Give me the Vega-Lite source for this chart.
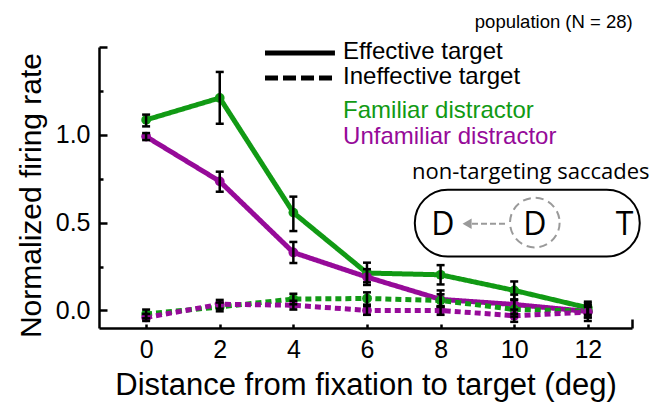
{
  "$schema": "https://vega.github.io/schema/vega-lite/v6.json",
  "width": 533,
  "height": 281,
  "autosize": {"type": "none"},
  "padding": {"left": 99, "top": 47, "right": 24, "bottom": 75},
  "background": "white",
  "config": {
    "view": {"stroke": null},
    "font": "Liberation Sans",
    "axis": {
      "domainColor": "black",
      "domainWidth": 2.5,
      "tickColor": "black",
      "tickWidth": 2.5,
      "labelColor": "black",
      "labelFont": "Liberation Sans",
      "labelFontSize": 25,
      "titleFont": "Liberation Sans",
      "titleFontWeight": "normal",
      "titleColor": "black",
      "grid": false
    }
  },
  "datasets": {
    "rates": [
      {"d": 0, "cond": "Familiar", "tgt": "Effective", "m": 1.085, "lo": 1.048, "hi": 1.115},
      {"d": 2, "cond": "Familiar", "tgt": "Effective", "m": 1.21, "lo": 1.063, "hi": 1.358},
      {"d": 4, "cond": "Familiar", "tgt": "Effective", "m": 0.557, "lo": 0.452, "hi": 0.648},
      {"d": 6, "cond": "Familiar", "tgt": "Effective", "m": 0.213, "lo": 0.16, "hi": 0.272},
      {"d": 8, "cond": "Familiar", "tgt": "Effective", "m": 0.203, "lo": 0.148, "hi": 0.258},
      {"d": 10, "cond": "Familiar", "tgt": "Effective", "m": 0.114, "lo": 0.063, "hi": 0.165},
      {"d": 12, "cond": "Familiar", "tgt": "Effective", "m": 0.015, "lo": -0.025, "hi": 0.05},
      {"d": 0, "cond": "Unfamiliar", "tgt": "Effective", "m": 0.99, "lo": 0.97, "hi": 1.01},
      {"d": 2, "cond": "Unfamiliar", "tgt": "Effective", "m": 0.735, "lo": 0.676, "hi": 0.79},
      {"d": 4, "cond": "Unfamiliar", "tgt": "Effective", "m": 0.33, "lo": 0.27, "hi": 0.39},
      {"d": 6, "cond": "Unfamiliar", "tgt": "Effective", "m": 0.19, "lo": 0.145, "hi": 0.235},
      {"d": 8, "cond": "Unfamiliar", "tgt": "Effective", "m": 0.063, "lo": 0.02, "hi": 0.114},
      {"d": 10, "cond": "Unfamiliar", "tgt": "Effective", "m": 0.034, "lo": -0.02, "hi": 0.09},
      {"d": 12, "cond": "Unfamiliar", "tgt": "Effective", "m": -0.006, "lo": -0.06, "hi": 0.04},
      {"d": 0, "cond": "Familiar", "tgt": "Ineffective", "m": -0.02, "lo": -0.045, "hi": 0.005},
      {"d": 2, "cond": "Familiar", "tgt": "Ineffective", "m": 0.02, "lo": -0.005, "hi": 0.045},
      {"d": 4, "cond": "Familiar", "tgt": "Ineffective", "m": 0.065, "lo": 0.035, "hi": 0.095},
      {"d": 6, "cond": "Familiar", "tgt": "Ineffective", "m": 0.068, "lo": 0.033, "hi": 0.103},
      {"d": 8, "cond": "Familiar", "tgt": "Ineffective", "m": 0.057, "lo": 0.022, "hi": 0.092},
      {"d": 10, "cond": "Familiar", "tgt": "Ineffective", "m": 0.006, "lo": -0.035, "hi": 0.06},
      {"d": 12, "cond": "Familiar", "tgt": "Ineffective", "m": -0.005, "lo": -0.04, "hi": 0.03},
      {"d": 0, "cond": "Unfamiliar", "tgt": "Ineffective", "m": -0.04, "lo": -0.06, "hi": -0.02},
      {"d": 2, "cond": "Unfamiliar", "tgt": "Ineffective", "m": 0.035, "lo": 0.01, "hi": 0.06},
      {"d": 4, "cond": "Unfamiliar", "tgt": "Ineffective", "m": 0.03, "lo": 0.005, "hi": 0.055},
      {"d": 6, "cond": "Unfamiliar", "tgt": "Ineffective", "m": 0.0, "lo": -0.025, "hi": 0.025},
      {"d": 8, "cond": "Unfamiliar", "tgt": "Ineffective", "m": 0.0, "lo": -0.025, "hi": 0.025},
      {"d": 10, "cond": "Unfamiliar", "tgt": "Ineffective", "m": -0.03, "lo": -0.065, "hi": 0.005},
      {"d": 12, "cond": "Unfamiliar", "tgt": "Ineffective", "m": -0.01, "lo": -0.04, "hi": 0.02}
    ]
  },
  "layer": [
    {
      "data": {"name": "rates"},
      "mark": {"type": "line", "strokeWidth": 5},
      "encoding": {
        "x": {
          "field": "d",
          "type": "quantitative",
          "scale": {"domain": [-1.28, 13.2], "nice": false, "zero": false},
          "axis": {
            "values": [0, 2, 4, 6, 8, 10, 12, 13.2],
            "labelExpr": "datum.value > 12.5 ? '' : datum.label",
            "tickSize": {"condition": {"test": "datum.value > 12.5", "value": -9}, "value": -4},
            "labelPadding": 13,
            "title": "Distance from fixation to target (deg)",
            "titleFontSize": 31,
            "titlePadding": 8
          }
        },
        "y": {
          "field": "m",
          "type": "quantitative",
          "scale": {"domain": [-0.1, 1.5], "nice": false, "zero": false},
          "axis": {
            "values": [0, 0.25, 0.5, 0.75, 1, 1.25, 1.5],
            "labelExpr": "datum.value % 0.5 != 0 || datum.value > 1.4 ? '' : format(datum.value, '.1f')",
            "tickSize": {"condition": {"test": "datum.value % 0.5 != 0", "value": -4}, "value": -8},
            "labelPadding": 17,
            "title": "Normalized firing rate",
            "titleFontSize": 30,
            "titlePadding": 9,
            "titleY": 148
          }
        },
        "color": {
          "field": "cond",
          "type": "nominal",
          "scale": {"domain": ["Familiar", "Unfamiliar"], "range": ["#119a14", "#960a99"]},
          "legend": null
        },
        "strokeDash": {
          "field": "tgt",
          "type": "nominal",
          "scale": {"domain": ["Effective", "Ineffective"], "range": [[1, 0], [6, 4]]},
          "legend": null
        }
      }
    },
    {
      "data": {"name": "rates"},
      "mark": {"type": "circle", "size": 95, "opacity": 1},
      "encoding": {
        "x": {"field": "d", "type": "quantitative"},
        "y": {"field": "m", "type": "quantitative"},
        "color": {"field": "cond", "type": "nominal", "legend": null}
      }
    },
    {
      "data": {"name": "rates"},
      "mark": {"type": "rule", "color": "black", "strokeWidth": 2.5},
      "encoding": {
        "x": {"field": "d", "type": "quantitative"},
        "y": {"field": "lo", "type": "quantitative"},
        "y2": {"field": "hi"}
      }
    },
    {
      "data": {"name": "rates"},
      "mark": {"type": "tick", "orient": "horizontal", "color": "black", "size": 8, "thickness": 2.5, "opacity": 1},
      "encoding": {
        "x": {"field": "d", "type": "quantitative"},
        "y": {"field": "lo", "type": "quantitative"}
      }
    },
    {
      "data": {"name": "rates"},
      "mark": {"type": "tick", "orient": "horizontal", "color": "black", "size": 8, "thickness": 2.5, "opacity": 1},
      "encoding": {
        "x": {"field": "d", "type": "quantitative"},
        "y": {"field": "hi", "type": "quantitative"}
      }
    },
    {
      "data": {"values": [{}]},
      "mark": {"type": "rule", "color": "black", "strokeWidth": 5},
      "encoding": {"x": {"datum": 3.23}, "x2": {"datum": 5.13}, "y": {"datum": 1.466}}
    },
    {
      "data": {"values": [{}]},
      "mark": {"type": "rule", "color": "black", "strokeWidth": 5, "strokeDash": [13, 5]},
      "encoding": {"x": {"datum": 3.23}, "x2": {"datum": 5.13}, "y": {"datum": 1.324}}
    },
    {
      "data": {"values": [{}]},
      "mark": {"type": "text", "align": "left", "baseline": "middle", "fontSize": 24, "color": "black"},
      "encoding": {"x": {"datum": 5.35}, "y": {"datum": 1.474}, "text": {"value": "Effective target"}}
    },
    {
      "data": {"values": [{}]},
      "mark": {"type": "text", "align": "left", "baseline": "middle", "fontSize": 24, "color": "black"},
      "encoding": {"x": {"datum": 5.35}, "y": {"datum": 1.33}, "text": {"value": "Ineffective target"}}
    },
    {
      "data": {"values": [{}]},
      "mark": {"type": "text", "align": "left", "baseline": "middle", "fontSize": 24, "color": "#119a14"},
      "encoding": {"x": {"datum": 5.35}, "y": {"datum": 1.133}, "text": {"value": "Familiar distractor"}}
    },
    {
      "data": {"values": [{}]},
      "mark": {"type": "text", "align": "left", "baseline": "middle", "fontSize": 24, "color": "#960a99"},
      "encoding": {"x": {"datum": 5.35}, "y": {"datum": 0.987}, "text": {"value": "Unfamiliar distractor"}}
    },
    {
      "data": {"values": [{}]},
      "mark": {"type": "text", "align": "left", "baseline": "middle", "fontSize": 18.5, "color": "black"},
      "encoding": {"x": {"datum": 8.93}, "y": {"datum": 1.642}, "text": {"value": "population (N = 28)"}}
    },
    {
      "data": {"values": [{}]},
      "mark": {"type": "text", "align": "center", "baseline": "middle", "fontSize": 22, "font": "Open Sans", "color": "black"},
      "encoding": {"x": {"datum": 10.45}, "y": {"datum": 0.79}, "text": {"value": "non-targeting saccades"}}
    },
    {
      "data": {"values": [{}]},
      "mark": {"type": "rect", "fill": null, "fillOpacity": 0, "stroke": "black", "strokeWidth": 2, "cornerRadius": 33},
      "encoding": {"x": {"datum": 7.3}, "x2": {"datum": 13.41}, "y": {"datum": 0.6875}, "y2": {"datum": 0.307}}
    },
    {
      "data": {"values": [{}]},
      "mark": {"type": "point", "shape": "circle", "filled": false, "size": 2460, "stroke": "#9a9a9a", "strokeWidth": 2, "strokeDash": [8, 5], "opacity": 1},
      "encoding": {"x": {"datum": 10.56}, "y": {"datum": 0.5}}
    },
    {
      "data": {"values": [{}]},
      "mark": {"type": "rule", "color": "#9a9a9a", "strokeWidth": 2, "strokeDash": [6, 3]},
      "encoding": {"x": {"datum": 9.75}, "x2": {"datum": 8.78}, "y": {"datum": 0.494}}
    },
    {
      "data": {"values": [{}]},
      "mark": {"type": "point", "shape": "triangle-left", "filled": true, "size": 110, "color": "#9a9a9a", "opacity": 1},
      "encoding": {"x": {"datum": 8.72}, "y": {"datum": 0.494}}
    },
    {
      "data": {"values": [{}]},
      "mark": {"type": "text", "align": "center", "baseline": "middle", "fontSize": 32, "font": "Open Sans", "color": "black"},
      "encoding": {"x": {"datum": 8.06}, "y": {"datum": 0.489}, "text": {"value": "D"}}
    },
    {
      "data": {"values": [{}]},
      "mark": {"type": "text", "align": "center", "baseline": "middle", "fontSize": 32, "font": "Open Sans", "color": "black"},
      "encoding": {"x": {"datum": 10.56}, "y": {"datum": 0.489}, "text": {"value": "D"}}
    },
    {
      "data": {"values": [{}]},
      "mark": {"type": "text", "align": "center", "baseline": "middle", "fontSize": 32, "font": "Open Sans", "color": "black"},
      "encoding": {"x": {"datum": 13.0}, "y": {"datum": 0.489}, "text": {"value": "T"}}
    }
  ]
}
